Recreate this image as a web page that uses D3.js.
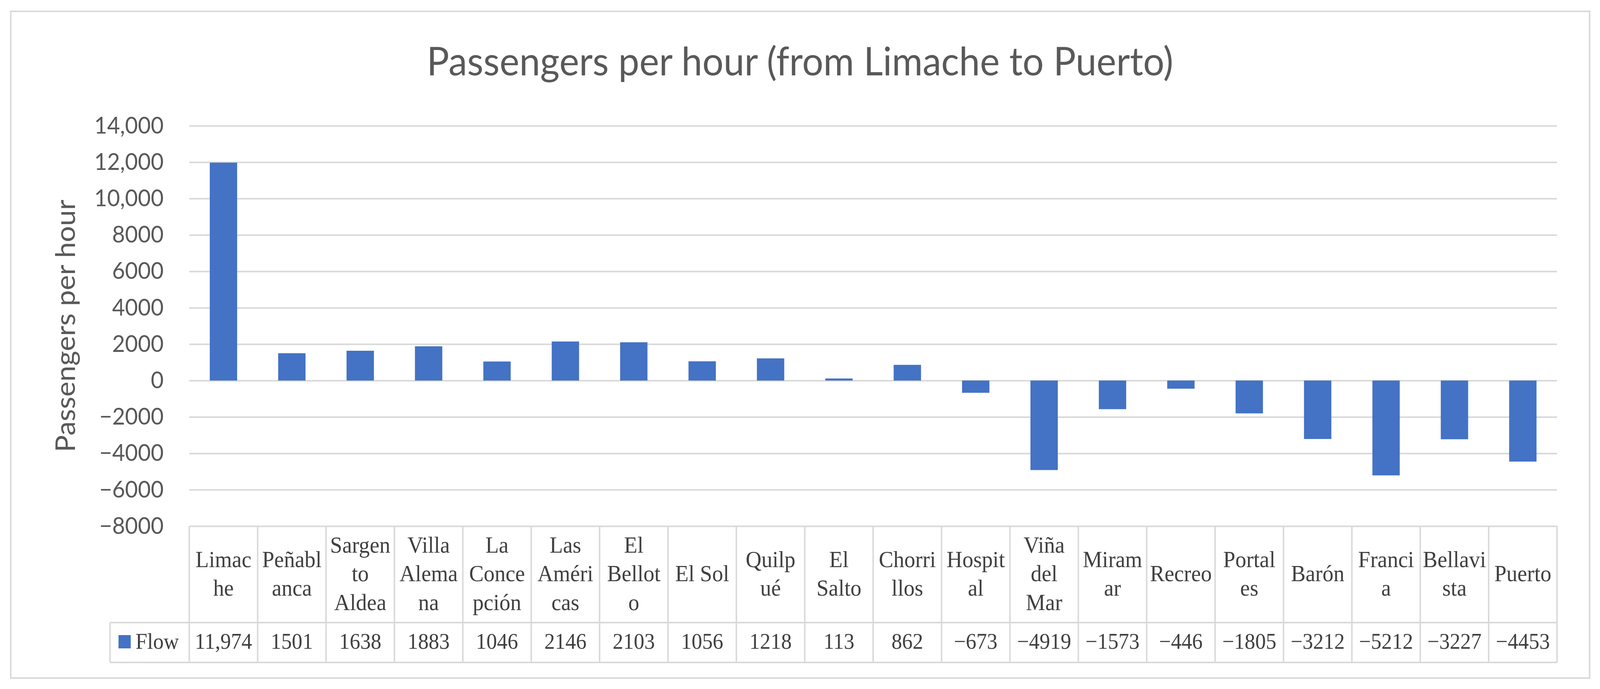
<!DOCTYPE html>
<html>
<head>
<meta charset="utf-8">
<script src="https://cdn.jsdelivr.net/npm/d3@7"></script>
<style>
  html, body { margin: 0; padding: 0; background: #fff; overflow: hidden; }
  svg { display: block; width: 100vw; height: 100vh; }
</style>
</head>
<body>
<script>

const width = 4320;
const height = 1764;

// stations, in order from Limache to Puerto
const categories = ["Limache", "Peñablanca", "Sargento Aldea", "Villa Alemana", "La Concepción",
  "Las Américas", "El Belloto", "El Sol", "Quilpué", "El Salto", "Chorrillos", "Hospital",
  "Viña del Mar", "Miramar", "Recreo", "Portales", "Barón", "Francia", "Bellavista", "Puerto"];

// how the station names wrap inside the narrow table cells
const categoryLines = [["Limac", "he"], ["Peñabl", "anca"], ["Sargen", "to", "Aldea"],
  ["Villa", "Alema", "na"], ["La", "Conce", "pción"], ["Las", "Améri", "cas"],
  ["El", "Bellot", "o"], ["El Sol"], ["Quilp", "ué"], ["El", "Salto"], ["Chorri", "llos"],
  ["Hospit", "al"], ["Viña", "del", "Mar"], ["Miram", "ar"], ["Recreo"], ["Portal", "es"],
  ["Barón"], ["Franci", "a"], ["Bellavi", "sta"], ["Puerto"]];

const flow = [11974, 1501, 1638, 1883, 1046, 2146, 2103, 1056, 1218, 113, 862, -673,
  -4919, -1573, -446, -1805, -3212, -5212, -3227, -4453];

const flowLabels = ["11,974", "1501", "1638", "1883", "1046", "2146", "2103", "1056", "1218", "113",
  "862", "−673", "−4919", "−1573", "−446", "−1805", "−3212", "−5212", "−3227", "−4453"];

const yTicks = [14000, 12000, 10000, 8000, 6000, 4000, 2000, 0, -2000, -4000, -6000, -8000];
const yTickLabels = ["14,000", "12,000", "10,000", "8000", "6000", "4000", "2000", "0",
  "−2000", "−4000", "−6000", "−8000"];

const seriesName = "Flow";

const plotLeft = 511, plotRight = 4204, plotTop = 322, plotBottom = 1347;
const rowSplit = 1594, tableBottom = 1696, legendLeft = 297;
const barColor = "#4472C4";
const gridColor = "#d9d9d9";
const textColor = "#595959";
const tableText = "#404040";

// fixed drawing size, stretched to whatever window it is shown in
const svg = d3.select("body").append("svg")
  .attr("viewBox", `0 0 ${width} ${height}`)
  .attr("preserveAspectRatio", "none");

// chart frame
svg.append("rect")
  .attr("x", 29).attr("y", 29)
  .attr("width", 4292 - 29).attr("height", 1736 - 29)
  .attr("fill", "#fff")
  .attr("stroke", gridColor)
  .attr("stroke-width", 4);

let cell = d3.scaleBand()
  .domain(categories)
  .range([plotLeft, plotRight]);

let x = d3.scaleBand()
  .domain(categories)
  .range([plotLeft, plotRight])
  .paddingInner(0.6)
  .paddingOuter(0.3);

let y = d3.scaleLinear()
  .domain([-8000, 14000])
  .range([plotBottom, plotTop]);

// gridlines and tick labels
let yAxis = svg.append("g")
  .attr("transform", `translate(${plotLeft},0)`)
  .call(d3.axisLeft(y)
    .tickValues(yTicks)
    .tickFormat((d, i) => yTickLabels[i])
    .tickSizeInner(-(plotRight - plotLeft))
    .tickSizeOuter(0)
    .tickPadding(69));

yAxis.select(".domain").remove();
yAxis.selectAll(".tick line")
  .attr("stroke", gridColor)
  .attr("stroke-width", 4);
yAxis.selectAll(".tick text")
  .attr("fill", textColor)
  .attr("font-family", "Lato, sans-serif")
  .attr("font-size", 60);

// bars
svg.selectAll(".bar")
  .data(flow)
  .join("rect")
  .attr("class", "bar")
  .attr("x", (d, i) => x(categories[i]))
  .attr("width", x.bandwidth())
  .attr("y", d => y(Math.max(0, d)))
  .attr("height", d => Math.abs(y(d) - y(0)))
  .attr("fill", barColor);

// title
svg.append("text")
  .attr("x", 2160)
  .attr("y", 193)
  .attr("text-anchor", "middle")
  .attr("fill", textColor)
  .attr("font-family", "Lato, sans-serif")
  .attr("font-size", 101)
  .text("Passengers per hour (from Limache to Puerto)");

// y axis title
svg.append("text")
  .attr("transform", `translate(203,${(plotTop + plotBottom) / 2}) rotate(-90)`)
  .attr("text-anchor", "middle")
  .attr("fill", textColor)
  .attr("font-family", "Lato, sans-serif")
  .attr("font-size", 73)
  .text("Passengers per hour");

// data table below the plot
let table = svg.append("g")
  .attr("stroke", gridColor)
  .attr("stroke-width", 4);

table.append("line")
  .attr("x1", legendLeft).attr("x2", plotRight)
  .attr("y1", rowSplit).attr("y2", rowSplit);
table.append("line")
  .attr("x1", legendLeft).attr("x2", plotRight)
  .attr("y1", tableBottom).attr("y2", tableBottom);
table.append("line")
  .attr("x1", legendLeft).attr("x2", legendLeft)
  .attr("y1", rowSplit).attr("y2", tableBottom);

table.selectAll(".vline")
  .data(categories.concat([null]))
  .join("line")
  .attr("class", "vline")
  .attr("x1", d => d === null ? plotRight : cell(d))
  .attr("x2", d => d === null ? plotRight : cell(d))
  .attr("y1", plotBottom)
  .attr("y2", tableBottom);

const lineHeight = 73.5;
const headerMid = (plotBottom + rowSplit) / 2;

svg.selectAll(".catlabel")
  .data(categoryLines)
  .join("text")
  .attr("class", "catlabel")
  .attr("text-anchor", "middle")
  .attr("fill", tableText)
  .attr("font-family", "'Liberation Serif', serif")
  .attr("font-size", 59)
  .each(function(lines, i) {
    let cx = cell(categories[i]) + cell.bandwidth() / 2;
    let first = headerMid + 18 - (lines.length - 1) * lineHeight / 2;
    d3.select(this).selectAll("tspan")
      .data(lines)
      .join("tspan")
      .attr("x", cx)
      .attr("y", (d, j) => first + j * lineHeight)
      .text(d => d);
  });

svg.selectAll(".vallabel")
  .data(flowLabels)
  .join("text")
  .attr("class", "vallabel")
  .attr("x", (d, i) => cell(categories[i]) + cell.bandwidth() / 2)
  .attr("y", 1661)
  .attr("text-anchor", "middle")
  .attr("fill", tableText)
  .attr("font-family", "'Liberation Serif', serif")
  .attr("font-size", 57)
  .text(d => d);

// legend key
svg.append("rect")
  .attr("x", 320).attr("y", 1626)
  .attr("width", 33).attr("height", 34)
  .attr("fill", barColor);

svg.append("text")
  .attr("x", 366)
  .attr("y", 1661)
  .attr("fill", tableText)
  .attr("font-family", "'Liberation Serif', serif")
  .attr("font-size", 57)
  .text(seriesName);

</script>
</body>
</html>
